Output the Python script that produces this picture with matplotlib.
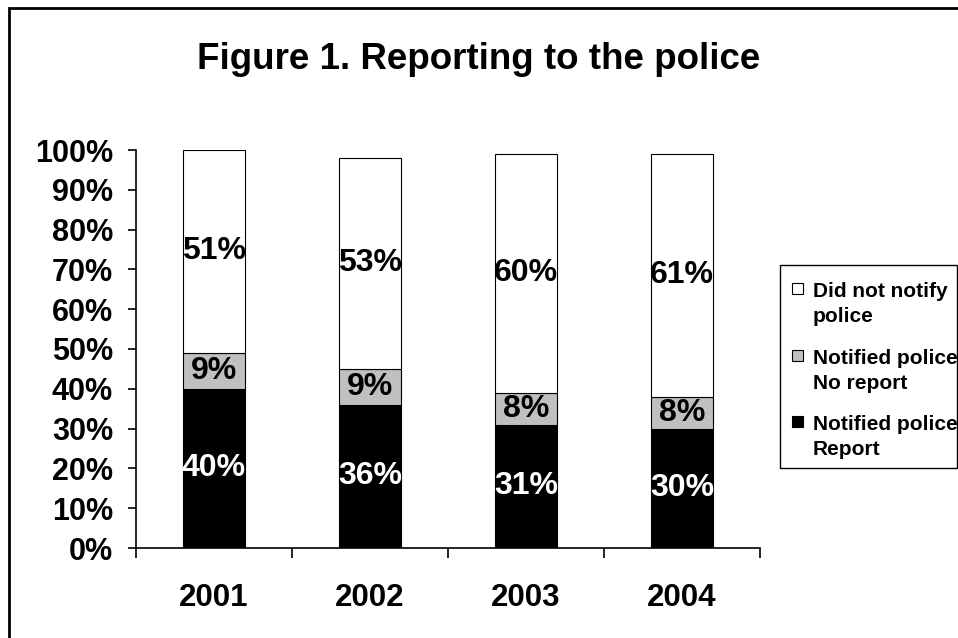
import matplotlib.pyplot as plt
import matplotlib.patches as patches
import numpy as np

plt.rcParams['font.family'] = ['Liberation Sans', 'DejaVu Sans']
plt.rcParams['font.weight'] = 'bold'

# Share of incidents by reporting outcome, per survey year (%)
years = ['2001', '2002', '2003', '2004']
report = [40, 36, 31, 30]
no_report = [9, 9, 8, 8]
not_notified = [51, 53, 60, 61]

series_names = ['Notified police\nReport', 'Notified police\nNo report', 'Did not notify\npolice']
colors = ['#000000', '#C0C0C0', '#FFFFFF']
text_colors = ['white', 'black', 'black']

W, H = 958, 638
fig = plt.figure(figsize=(W / 100, H / 100), dpi=100)
ax = fig.add_axes([136/W, 1 - 548/H, (760 - 136)/W, (548 - 150)/H])

def px(x, y):
    # pixel position (from top-left) -> figure fraction
    return x / W, 1 - y / H

x = np.arange(len(years)) + 0.5
bottom = np.zeros(len(years))
for vals, name, col, tcol in zip([report, no_report, not_notified], series_names, colors, text_colors):
    vals = np.array(vals, dtype=float)
    ax.bar(x, vals, width=0.4, bottom=bottom, color=col, edgecolor='black',
           linewidth=0.8, label=name)
    for xi, bi, v in zip(x, bottom, vals):
        ax.text(xi, bi + v / 2, '%d%%' % v, ha='center', va='center',
                fontsize=23, fontweight='bold', color=tcol)
    bottom += vals

ax.set_xlim(0, 4)
ax.set_ylim(0, 100)
ax.set_yticks(np.arange(0, 101, 10))
ax.set_yticklabels(['%d%%' % v for v in range(0, 101, 10)], fontsize=22, fontweight='bold')
ax.tick_params(axis='y', direction='out', length=6, width=1.2, pad=10.5)

# year labels at bar centres, tick marks at category boundaries
ax.set_xticks(x)
ax.set_xticklabels(years, fontsize=22.5, fontweight='bold')
ax.tick_params(axis='x', which='major', length=0, pad=25)
ax.set_xticks(np.arange(0, 5), minor=True)
ax.tick_params(axis='x', which='minor', direction='out', length=7, width=1.2)

for side in ['top', 'right']:
    ax.spines[side].set_visible(False)
for side in ['left', 'bottom']:
    ax.spines[side].set_linewidth(1.2)

fig.text(*px(479, 69), 'Figure 1. Reporting to the police', ha='center', va='baseline',
         fontsize=26.5, fontweight='bold')

# legend box, top entry first
fig.patches.append(patches.Rectangle(px(780, 468), 177/W, 203/H, transform=fig.transFigure,
                                     fill=False, edgecolor='black', linewidth=1.0))
baselines = [297, 364, 430]
for name, col, base in zip(series_names[::-1], colors[::-1], baselines):
    fig.patches.append(patches.Rectangle(px(792, base - 3), 11/W, 11/H, transform=fig.transFigure,
                                         facecolor=col, edgecolor='black', linewidth=0.8))
    for i, line in enumerate(name.split('\n')):
        fig.text(*px(813, base + 25 * i), line, ha='left', va='baseline',
                 fontsize=15, fontweight='bold')

# border around the whole chart area
fig.patches.append(patches.Rectangle((9/W, -0.2), 1.2, 0.2 + 1 - 8/H, transform=fig.transFigure,
                                     fill=False, edgecolor='black', linewidth=2))

fig.savefig('out.png', dpi=100)
